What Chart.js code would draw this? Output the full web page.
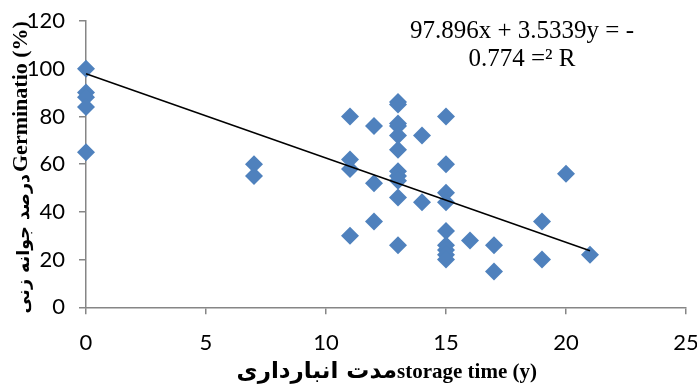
<!DOCTYPE html>
<html>
<head>
<meta charset="utf-8">
<script src="https://cdn.jsdelivr.net/npm/chart.js@4"></script>
<style>
  html, body { margin: 0; padding: 0; background: #ffffff; }
  #wrap { width: 697px; height: 385px; position: relative; }
</style>
</head>
<body>
<div id="wrap"><canvas id="c" width="697" height="385"></canvas></div>
<script>
// Storage time (years) and germination (%)
const storageTime = [0,0,0,0,0, 7,7, 11,11,11,11, 12,12,12,
  13,13,13,13,13,13,13,13,13,13,13, 14,14,
  15,15,15,15,15,15,15,15,15, 16, 17,17, 19,19, 20, 21];
const germination = [100,90,88,84,65, 60,55, 80,62,58,30, 76,52,36,
  86,85,77,76,72,66,57,55,53,46,26, 72,44,
  80,60,48,44,32,26,24,22,20, 28, 26,15, 36,20, 56, 22];
// Linear trendline endpoints (y = -3.5339x + 97.896)
const trendX = [0, 21];
const trendY = [97.9, 23.7];
const xTicks = [0, 5, 10, 15, 20, 25];
const yTicks = [0, 20, 40, 60, 80, 100, 120];
const xTitleFa = 'مدت انبارداری';
const xTitleEn = 'storage time (y)';
const yTitleFa = 'درصد جوانه زنی';
const yTitleEn = 'Germinatio (%)';
const eqLine1 = '97.896x + 3.5339y = -';
const eqLine2 = '0.774 =² R';

const points = storageTime.map((x, i) => ({ x: x, y: germination[i] }));
const trend = trendX.map((x, i) => ({ x: x, y: trendY[i] }));

const axisColor = '#868686';

const textPlugin = {
  id: 'texts',
  afterDraw(chart) {
    const ctx = chart.ctx;
    ctx.save();
    ctx.fillStyle = '#000000';
    ctx.textBaseline = 'alphabetic';
    // equation
    ctx.font = "25px 'Liberation Serif', 'Times New Roman', serif";
    ctx.textAlign = 'center';
    ctx.fillText(eqLine1, 522, 37.5);
    ctx.fillText(eqLine2, 522, 65.5);
    // x title: Persian part then English part
    const xJoin = 397;
    ctx.font = "bold 23px 'DejaVu Sans', sans-serif";
    ctx.textAlign = 'right';
    ctx.fillText(xTitleFa, xJoin, 378);
    ctx.font = "bold 21px 'Liberation Serif', 'Times New Roman', serif";
    ctx.textAlign = 'left';
    ctx.fillText(xTitleEn, xJoin, 378);
    // y title (rotated)
    ctx.translate(27, 0);
    ctx.rotate(-Math.PI / 2);
    const yJoin = -174; // along-text coordinate (= -pixel y)
    ctx.font = "bold 17.5px 'DejaVu Sans', sans-serif";
    ctx.textAlign = 'right';
    ctx.fillText(yTitleFa, yJoin, 2);
    ctx.font = "bold 22px 'Liberation Serif', 'Times New Roman', serif";
    ctx.textAlign = 'left';
    ctx.fillText(yTitleEn, yJoin + 2, 0);
    ctx.restore();
  }
};

new Chart(document.getElementById('c'), {
  type: 'scatter',
  data: {
    datasets: [
      {
        label: 'Germination',
        data: points,
        pointStyle: 'rectRot',
        pointRadius: 9,
        pointHoverRadius: 9,
        backgroundColor: '#4F81BD',
        borderColor: '#4F81BD',
        borderWidth: 0,
        clip: false,
        order: 2
      },
      {
        label: 'Trend',
        type: 'line',
        data: trend,
        borderColor: '#000000',
        borderWidth: 1.5,
        pointRadius: 0,
        fill: false,
        clip: false,
        order: 1
      }
    ]
  },
  options: {
    responsive: false,
    animation: false,
    events: [],
    layout: { padding: { left: 0, right: 11, top: 21, bottom: 0 } },
    plugins: {
      legend: { display: false },
      tooltip: { enabled: false }
    },
    scales: {
      x: {
        type: 'linear',
        min: 0, max: 25,
        afterBuildTicks: (s) => { s.ticks = xTicks.map(v => ({ value: v })); },
        afterFit: (s) => { s.height = 77.7; s.paddingLeft = 0; s.paddingRight = 0; },
        border: { display: true, color: axisColor, width: 1.5 },
        grid: { display: true, drawOnChartArea: false, drawTicks: true, tickLength: 7, color: axisColor, lineWidth: 1.5 },
        ticks: { color: '#000000', padding: 15, maxRotation: 0, font: { family: 'Lato', size: 22 } }
      },
      y: {
        type: 'linear',
        min: 0, max: 120,
        afterBuildTicks: (s) => { s.ticks = yTicks.map(v => ({ value: v })); },
        afterFit: (s) => { s.width = 86; s.paddingTop = 0; s.paddingBottom = 0; },
        border: { display: true, color: axisColor, width: 1.5 },
        grid: { display: true, drawOnChartArea: false, drawTicks: true, tickLength: 7, color: axisColor, lineWidth: 1.5 },
        ticks: { color: '#000000', padding: 14, font: { family: 'Lato', size: 22 } }
      }
    }
  },
  plugins: [textPlugin]
});
</script>
</body>
</html>
